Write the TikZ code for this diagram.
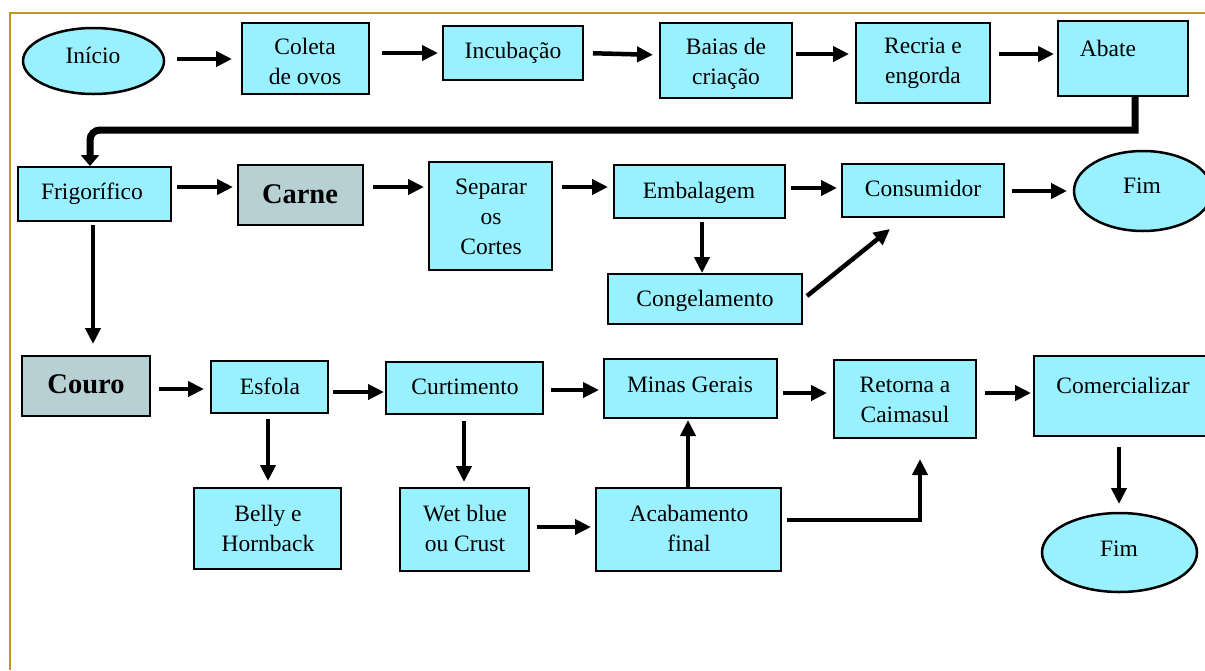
\documentclass[tikz,border=0pt]{standalone}
\usepackage{fontspec}
\setmainfont{Liberation Serif}
\usetikzlibrary{arrows.meta,shapes.geometric,calc}
\definecolor{boxfill}{RGB}{153,240,255}
\definecolor{keyfill}{RGB}{183,208,212}
\definecolor{framegold}{RGB}{192,150,30}

% rectangle given by its corners: [extra style]{name}{x1}{y1}{x2}{y2}
\newcommand\flowbox[6][]{%
  \node[stepbox,#1,minimum width={#5-#3-2},minimum height={#6-#4-2}]
    (#2) at ({(#3+#5)/2},{(#4+#6)/2}) {};}

\begin{document}
\begin{tikzpicture}[x=1pt,y=-1pt,
  stepbox/.style={draw=black,line width=2.5pt,fill=boxfill,rectangle,inner sep=0pt,outer sep=0pt},
  keybox/.style={fill=keyfill},
  endcap/.style={draw=black,line width=2.5pt,fill=boxfill,ellipse,inner sep=0pt,outer sep=0pt},
  txt/.style={font=\fontsize{23.5}{30}\selectfont,align=center,inner sep=0pt,anchor=base},
  keytxt/.style={font=\fontsize{28.5}{34}\selectfont\bfseries,inner sep=0pt,anchor=base},
  arr/.style={line width=4.5pt,-{Triangle[length=16pt,width=15pt]}},
  trunk/.style={line width=7pt,-{Triangle[length=11pt,width=18pt]}},
  frameline/.style={draw=framegold,line width=2pt}]
\useasboundingbox (0,0) rectangle (1205,670);
\fill[white] (0,0) rectangle (1205,670);
\draw[frameline] (10,670) -- (10,13) -- (1205,13);

% start / end terminals
\node[endcap,minimum width=141pt,minimum height=66pt] (inicio) at (93.5,61) {};
\node[endcap,minimum width=138pt,minimum height=80pt] (fim) at (1143,191) {};
\node[endcap,minimum width=155pt,minimum height=79pt] (fim2) at (1119.5,552.5) {};

% process steps
\flowbox{coleta}{241}{22}{370}{95}
\flowbox{incub}{442}{25}{584}{81}
\flowbox{baias}{659}{22}{793}{99}
\flowbox{recria}{855}{22}{991}{104}
\flowbox{abate}{1057}{20}{1189}{97}
\flowbox{frig}{17}{166}{172}{222}
\flowbox[keybox]{carne}{237}{164}{364}{226}
\flowbox{separar}{428}{161}{553}{271}
\flowbox{embal}{613}{164}{786}{219}
\flowbox{consum}{841}{163}{1005}{218}
\flowbox{congel}{607}{273}{803}{325}
\flowbox[keybox]{couro}{21}{355}{151}{417}
\flowbox{esfola}{210}{360}{329}{414}
\flowbox{curt}{385}{361}{544}{415}
\flowbox{minas}{603}{358}{778}{419}
\flowbox{retorna}{833}{359}{977}{439}
\flowbox{comerc}{1033}{355}{1215}{437}
\flowbox{belly}{193}{487}{342}{570}
\flowbox{wet}{399}{487}{530}{572}
\flowbox{acab}{595}{487}{782}{572}

% labels (base = baseline of the last line)
\node[txt] (tInicio) at (93,63) {Início};
\node[txt] (tColeta) at (305,84) {Coleta\\de ovos};
\node[txt] (tIncub) at (513,58) {Incubação};
\node[txt] (tBaias) at (726,84) {Baias de\\criação};
\node[txt] (tRecria) at (923,83) {Recria e\\engorda};
\node[txt] (tAbate) at (1108,56) {Abate};
\node[txt] (tFrig) at (92,199) {Frigorífico};
\node[keytxt] (tCarne) at (300,203) {Carne};
\node[txt] (tSeparar) at (491,254) {Separar\\os\\Cortes};
\node[txt] (tEmbal) at (699,198) {Embalagem};
\node[txt] (tConsum) at (923,196) {Consumidor};
\node[txt] (tFim) at (1142,193) {Fim};
\node[txt] (tCongel) at (705,306) {Congelamento};
\node[keytxt] (tCouro) at (86,393) {Couro};
\node[txt] (tEsfola) at (270,394) {Esfola};
\node[txt] (tCurt) at (465,394) {Curtimento};
\node[txt] (tMinas) at (690,392) {Minas Gerais};
\node[txt] (tRetorna) at (905,422) {Retorna a\\Caimasul};
\node[txt] (tComerc) at (1123,393) {Comercializar};
\node[txt] (tFim2) at (1119,556) {Fim};
\node[txt] (tBelly) at (268,551) {Belly e\\Hornback};
\node[txt] (tWet) at (465,551) {Wet blue\\ou Crust};
\node[txt] (tAcab) at (689,551) {Acabamento\\final};

% first row
\draw[arr,shorten <=13pt,shorten >=10pt] (inicio.east |- 0,59) -- (coleta.west |- 0,59);
\draw[arr,shorten <=13pt,shorten >=5pt] (coleta.east |- 0,53) -- (incub.west |- 0,53);
\draw[arr,shorten <=10pt,shorten >=7pt] (incub.east |- 0,53) -- (baias.west |- 0,55);
\draw[arr,shorten <=4pt,shorten >=7pt] (baias.east |- 0,54) -- (recria.west |- 0,54);
\draw[arr,shorten <=9pt,shorten >=4pt] (recria.east |- 0,54) -- (abate.west |- 0,54);
\draw[trunk,shorten >=1pt] (abate.south -| 1135,0) -- ++(0,34) [rounded corners=10pt] -| (frig.north -| 90,0);

% meat branch
\draw[arr,shorten <=6pt,shorten >=5pt] (frig.east |- 0,187) -- (carne.west |- 0,187);
\draw[arr,shorten <=10pt,shorten >=5pt] (carne.east |- 0,187) -- (separar.west |- 0,187);
\draw[arr,shorten <=10pt,shorten >=6pt] (separar.east |- 0,187) -- (embal.west |- 0,187);
\draw[arr,shorten <=6pt,shorten >=5pt] (embal.east |- 0,188) -- (consum.west |- 0,188);
\draw[arr,shorten <=8pt,shorten >=7pt] (consum.east |- 0,191) -- (fim.west |- 0,191);
\draw[arr,shorten <=4pt,shorten >=1pt] (embal.south -| 702,0) -- (congel.north -| 702,0);
\draw[arr] ($(congel.east)+(5,-3)$) -- ($(consum.south)+(-33,12)$);

% leather branch
\draw[arr,shorten <=4pt,shorten >=12pt] (frig.south -| 93,0) -- (couro.north -| 93,0);
\draw[arr,shorten <=9pt,shorten >=7pt] (couro.east |- 0,389) -- (esfola.west |- 0,389);
\draw[arr,shorten <=5pt,shorten >=2pt] (esfola.east |- 0,392) -- (curt.west |- 0,392);
\draw[arr,shorten <=8pt,shorten >=5pt] (curt.east |- 0,390) -- (minas.west |- 0,390);
\draw[arr,shorten <=6pt,shorten >=7pt] (minas.east |- 0,393) -- (retorna.west |- 0,393);
\draw[arr,shorten <=9pt,shorten >=3pt] (retorna.east |- 0,393) -- (comerc.west |- 0,393);
\draw[arr,shorten <=11pt,shorten >=9pt] (comerc.south -| 1119,0) -- (fim2.north -| 1119,0);
\draw[arr,shorten <=6pt,shorten >=7pt] (esfola.south -| 268,0) -- (belly.north -| 268,0);
\draw[arr,shorten <=7pt,shorten >=6pt] (curt.south -| 464,0) -- (wet.north -| 464,0);
\draw[arr,shorten <=8pt,shorten >=5pt] (wet.east |- 0,527) -- (acab.west |- 0,527);
\draw[arr,shorten >=2pt] (acab.north -| 688,0) -- (minas.south -| 688,0);
\draw[arr,shorten <=6pt,shorten >=21pt] (acab.east |- 0,520) -| (retorna.south -| 920,0);
\end{tikzpicture}
\end{document}
